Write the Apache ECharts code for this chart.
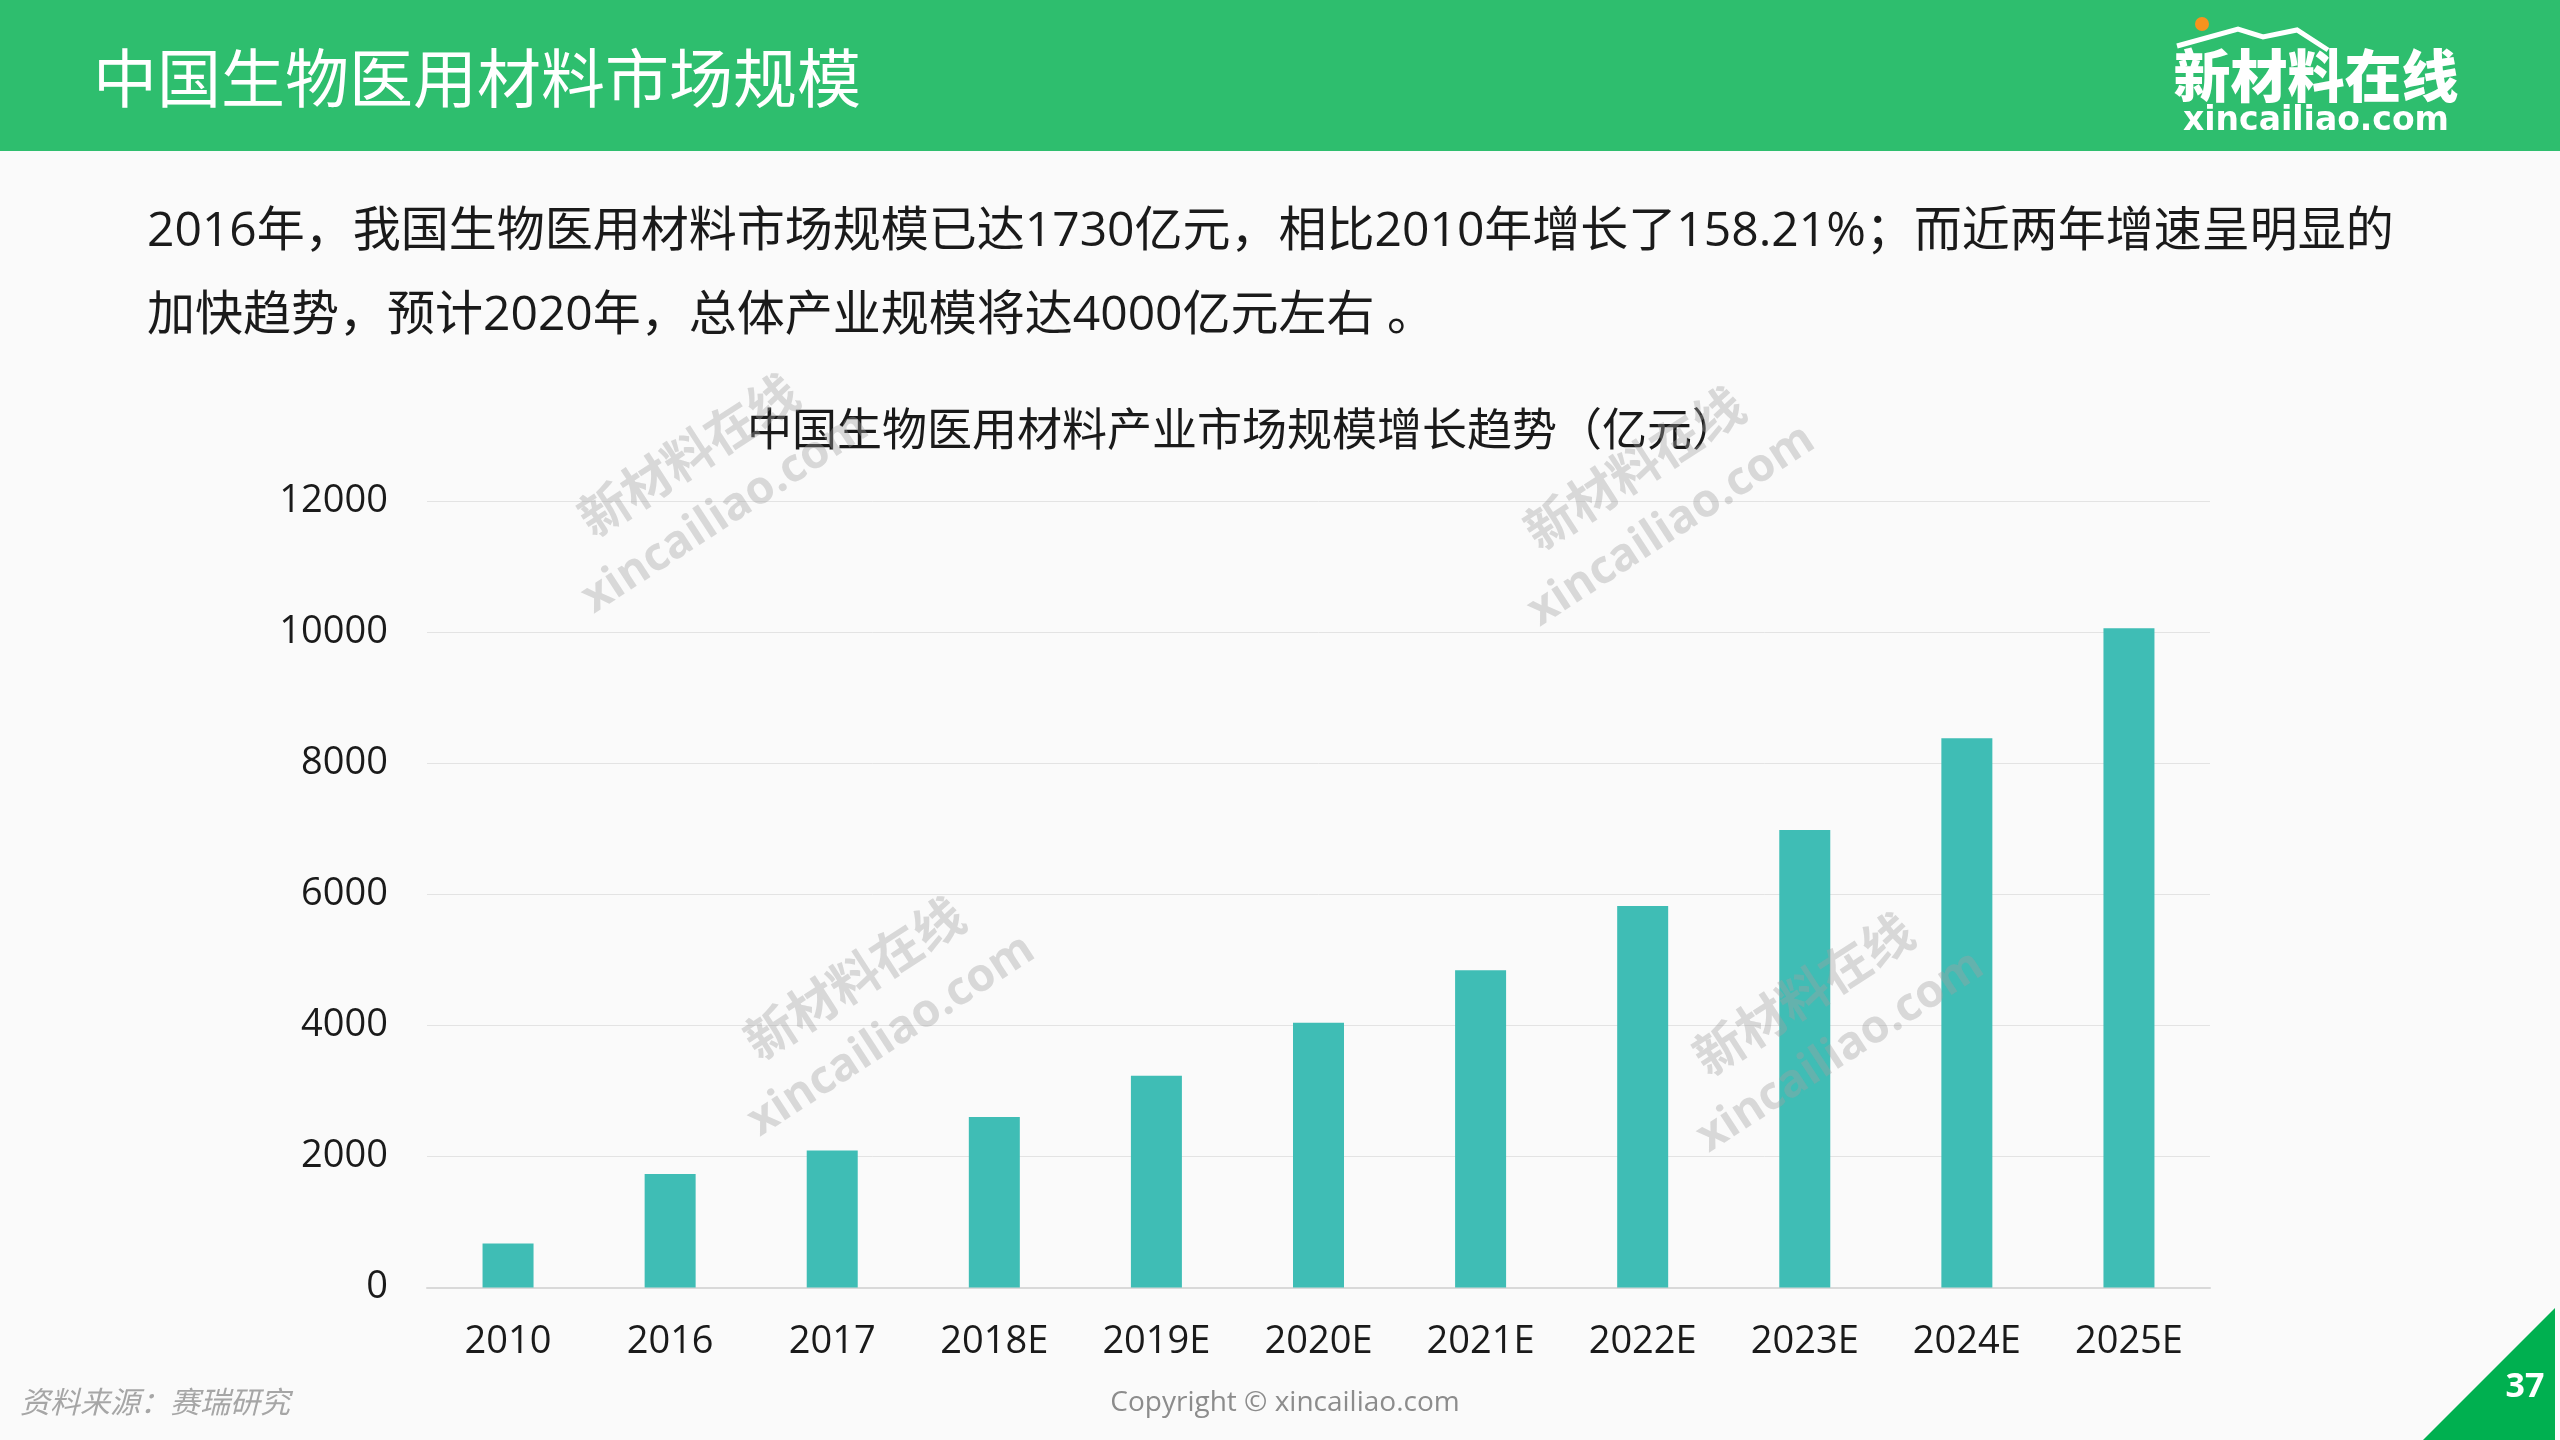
<!DOCTYPE html>
<html>
<head>
<meta charset="utf-8">
<script src="https://cdn.jsdelivr.net/npm/echarts@6/dist/echarts.min.js"></script>
<style>
  html, body { margin: 0; padding: 0; background: #fafafa; }
  #main { width: 2560px; height: 1440px; }
</style>
</head>
<body>
<div id="main"></div>
<script>
const years = ['2010', '2016', '2017', '2018E', '2019E', '2020E', '2021E', '2022E', '2023E', '2024E', '2025E']
const marketSize = [670, 1730, 2090, 2600, 3230, 4040, 4840, 5820, 6980, 8380, 10060]
const yTicks = { min: 0, max: 12000, interval: 2000 }

const pageTitle = '中国生物医用材料市场规模'
const chartTitle = '中国生物医用材料产业市场规模增长趋势（亿元）'
const summaryLines = [
  '2016年，我国生物医用材料市场规模已达1730亿元，相比2010年增长了158.21%；而近两年增速呈明显的',
  '加快趋势，预计2020年，总体产业规模将达4000亿元左右 。'
]
const sourceText = '资料来源：赛瑞研究'
const copyright = 'Copyright © xincailiao.com'
const pageNo = '37'

const FONT = "'Open Sans', 'Noto Sans CJK SC', sans-serif"
const BAR = '#3fbdb5'

// watermark centres
const marks = [[707, 484], [1653, 497], [873, 1007], [1822, 1023]]
const wmFill = 'rgba(160,160,160,0.38)'
const watermark = (p) => ({
  type: 'group',
  x: p[0],
  y: p[1],
  rotation: 33 * Math.PI / 180,
  zlevel: 1,
  z: 100,
  silent: true,
  children: [
    { type: 'text', x: 0, y: -35, zlevel: 1, z: 100, style: { text: '新材料在线', font: "bold 50px 'Noto Sans CJK SC'", fill: wmFill, textAlign: 'center', textVerticalAlign: 'middle' } },
    { type: 'text', x: 0, y: 34, zlevel: 1, z: 100, style: { text: 'xincailiao.com', font: "bold 46px 'Open Sans'", fill: wmFill, textAlign: 'center', textVerticalAlign: 'middle' } }
  ]
})

const chart = echarts.init(document.getElementById('main'))

const option = {
  backgroundColor: '#fafafa',
  animation: false,
  grid: {
    left: 427,
    right: 350,
    top: 501,
    bottom: 152.5
  },
  xAxis: {
    type: 'category',
    data: years,
    axisTick: { show: false },
    axisLine: { lineStyle: { color: '#d9d9d9', width: 2 } },
    axisLabel: { color: '#1a1a1a', fontSize: 38, fontFamily: FONT, margin: 36 }
  },
  yAxis: {
    type: 'value',
    min: yTicks.min,
    max: yTicks.max,
    interval: yTicks.interval,
    axisLine: { show: false },
    axisTick: { show: false },
    splitLine: { lineStyle: { color: '#e3e3e3', width: 1 } },
    axisLabel: { color: '#1a1a1a', fontSize: 38, fontFamily: FONT, margin: 39, formatter: (v) => String(v) }
  },
  series: [{
    type: 'bar',
    data: marketSize,
    barWidth: 51,
    itemStyle: { color: BAR }
  }],
  graphic: [
    // header band
    { type: 'rect', shape: { x: 0, y: 0, width: 2560, height: 151 }, style: { fill: '#2ebe6e' }, z: 0 },
    { type: 'text', x: 93, y: 78, style: { text: pageTitle, font: "64px 'Noto Sans CJK SC'", fill: '#ffffff', textVerticalAlign: 'middle' } },
    // logo
    { type: 'circle', shape: { cx: 2202, cy: 24, r: 7 }, style: { fill: '#f7931e' } },
    { type: 'polyline', shape: { points: [[2177, 46], [2238, 29], [2263, 37], [2297, 30], [2328, 50]] }, style: { stroke: '#ffffff', lineWidth: 5, fill: null } },
    { type: 'text', x: 2316, y: 75, style: { text: '新材料在线', font: "900 57px 'Noto Sans CJK SC'", fill: '#ffffff', textAlign: 'center', textVerticalAlign: 'middle' } },
    { type: 'text', x: 2316, y: 121, style: { text: 'xincailiao.com', font: "bold 33px 'DejaVu Sans'", fill: '#ffffff', textAlign: 'center', textVerticalAlign: 'middle' } },
    // summary paragraph
    { type: 'text', x: 147, y: 232, style: { text: summaryLines[0], font: '48px ' + FONT, fill: '#1a1a1a', textVerticalAlign: 'middle' } },
    { type: 'text', x: 147, y: 316, style: { text: summaryLines[1], font: '48px ' + FONT, fill: '#1a1a1a', textVerticalAlign: 'middle' } },
    // chart title
    { type: 'text', x: 1242, y: 433, style: { text: chartTitle, font: '45px ' + FONT, fill: '#1a1a1a', textAlign: 'center', textVerticalAlign: 'middle' } },
    // footer
    { type: 'text', x: 20, y: 1402, style: { text: sourceText, font: "italic 30px 'Noto Sans CJK SC'", fill: '#a6a6a6', textVerticalAlign: 'middle' } },
    { type: 'text', x: 1285, y: 1403, style: { text: copyright, font: "28px 'Open Sans'", fill: '#8c8c8c', textAlign: 'center', textVerticalAlign: 'middle' } },
    { type: 'polygon', shape: { points: [[2555, 1308], [2555, 1440], [2423, 1440]] }, style: { fill: '#00b050' } },
    { type: 'text', x: 2525, y: 1387, style: { text: pageNo, font: "bold 34px 'Open Sans'", fill: '#ffffff', textAlign: 'center', textVerticalAlign: 'middle' } },
    ...marks.map(watermark)
  ]
}

option && chart.setOption(option)
</script>
</body>
</html>
